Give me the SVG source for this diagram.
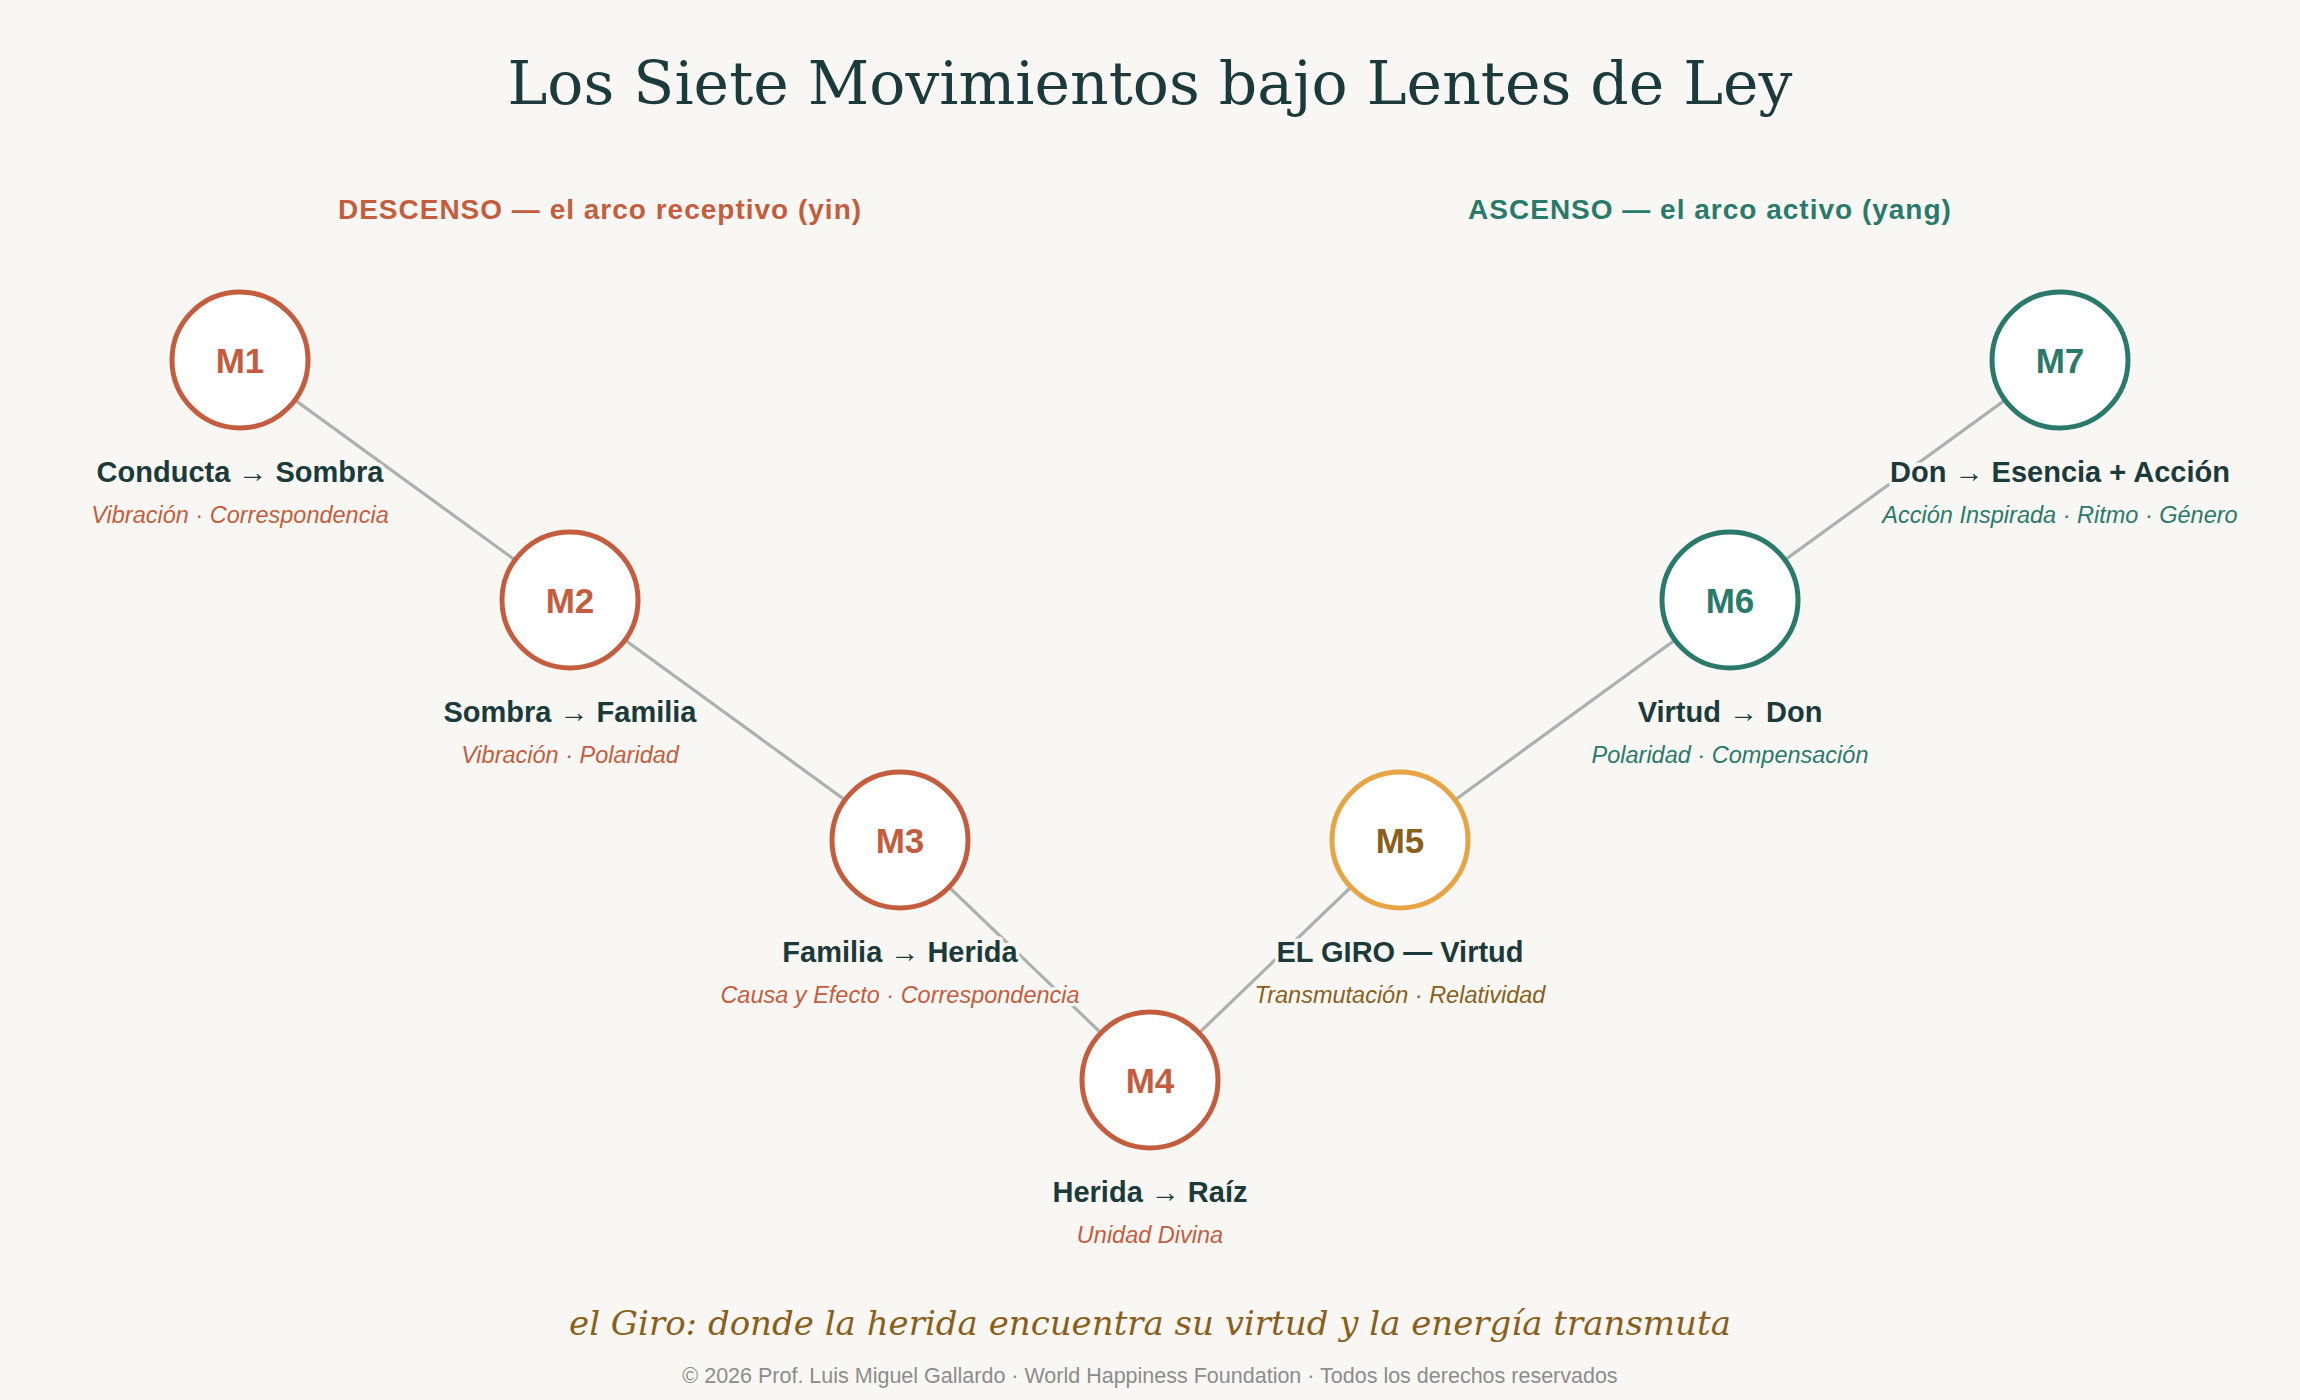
<svg xmlns="http://www.w3.org/2000/svg" width="2300" height="1400" viewBox="0 0 2300 1400">
<style>
.bg{fill:#f9f7f3}
.title{font-family:"DejaVu Serif","Liberation Serif",serif;font-size:60px;fill:#1b3a3b;text-anchor:middle}
.hd{font-family:"Liberation Sans",Arial,sans-serif;font-size:28px;font-weight:bold;text-anchor:middle;letter-spacing:1px}
.ring{fill:#ffffff;stroke-width:5}
.mid{font-family:"Liberation Sans",Arial,sans-serif;font-size:35px;font-weight:bold;text-anchor:middle}
.lbl{font-family:"Liberation Sans",Arial,sans-serif;font-size:29px;font-weight:bold;fill:#1b3a3b;text-anchor:middle;stroke:#f9f7f3;stroke-width:7px;paint-order:stroke;stroke-linejoin:round}
.sub{font-family:"Liberation Sans",Arial,sans-serif;font-size:23.5px;font-style:italic;text-anchor:middle;stroke:#f9f7f3;stroke-width:7px;paint-order:stroke;stroke-linejoin:round}
.yin{fill:#c45d3e}
.yinS{stroke:#c45d3e}
.yang{fill:#2a7a6b}
.yangS{stroke:#2a7a6b}
.gold{fill:#8a5f1c}
.goldS{stroke:#e8a444}
.conn{stroke:#aab1af;stroke-width:3.2;fill:none}
.motto{font-family:"DejaVu Serif","Liberation Serif",serif;font-size:34px;font-style:italic;fill:#8a5f1c;text-anchor:middle}
.foot{font-family:"Liberation Sans",Arial,sans-serif;font-size:21.5px;fill:#8c8c8c;text-anchor:middle}
</style>
<rect class="bg" x="0" y="0" width="2300" height="1400"/>
<text class="title" x="1150" y="104">Los Siete Movimientos bajo Lentes de Ley</text>
<text class="hd yin" x="600" y="219">DESCENSO — el arco receptivo (yin)</text>
<text class="hd yang" x="1710" y="219">ASCENSO — el arco activo (yang)</text>
<g id="connectors">
<line class="conn" x1="240" y1="360" x2="570" y2="600"/>
<line class="conn" x1="570" y1="600" x2="900" y2="840"/>
<line class="conn" x1="900" y1="840" x2="1150" y2="1080"/>
<line class="conn" x1="1150" y1="1080" x2="1400" y2="840"/>
<line class="conn" x1="1400" y1="840" x2="1730" y2="600"/>
<line class="conn" x1="1730" y1="600" x2="2060" y2="360"/>
</g>
<g id="M1">
<circle class="ring yinS" cx="240" cy="360" r="68"/>
<text class="mid yin" x="240" y="373">M1</text>
<text class="lbl" x="240" y="482">Conducta → Sombra</text>
<text class="sub yin" x="240" y="523">Vibración · Correspondencia</text>
</g>
<g id="M2">
<circle class="ring yinS" cx="570" cy="600" r="68"/>
<text class="mid yin" x="570" y="613">M2</text>
<text class="lbl" x="570" y="722">Sombra → Familia</text>
<text class="sub yin" x="570" y="763">Vibración · Polaridad</text>
</g>
<g id="M3">
<circle class="ring yinS" cx="900" cy="840" r="68"/>
<text class="mid yin" x="900" y="853">M3</text>
<text class="lbl" x="900" y="962">Familia → Herida</text>
<text class="sub yin" x="900" y="1003">Causa y Efecto · Correspondencia</text>
</g>
<g id="M4">
<circle class="ring yinS" cx="1150" cy="1080" r="68"/>
<text class="mid yin" x="1150" y="1093">M4</text>
<text class="lbl" x="1150" y="1202">Herida → Raíz</text>
<text class="sub yin" x="1150" y="1243">Unidad Divina</text>
</g>
<g id="M5">
<circle class="ring goldS" cx="1400" cy="840" r="68"/>
<text class="mid gold" x="1400" y="853">M5</text>
<text class="lbl" x="1400" y="962">EL GIRO — Virtud</text>
<text class="sub gold" x="1400" y="1003">Transmutación · Relatividad</text>
</g>
<g id="M6">
<circle class="ring yangS" cx="1730" cy="600" r="68"/>
<text class="mid yang" x="1730" y="613">M6</text>
<text class="lbl" x="1730" y="722">Virtud → Don</text>
<text class="sub yang" x="1730" y="763">Polaridad · Compensación</text>
</g>
<g id="M7">
<circle class="ring yangS" cx="2060" cy="360" r="68"/>
<text class="mid yang" x="2060" y="373">M7</text>
<text class="lbl" x="2060" y="482">Don → Esencia + Acción</text>
<text class="sub yang" x="2060" y="523">Acción Inspirada · Ritmo · Género</text>
</g>
<text class="motto" x="1150" y="1335">el Giro: donde la herida encuentra su virtud y la energía transmuta</text>
<text class="foot" x="1150" y="1383">© 2026 Prof. Luis Miguel Gallardo · World Happiness Foundation · Todos los derechos reservados</text>
</svg>
